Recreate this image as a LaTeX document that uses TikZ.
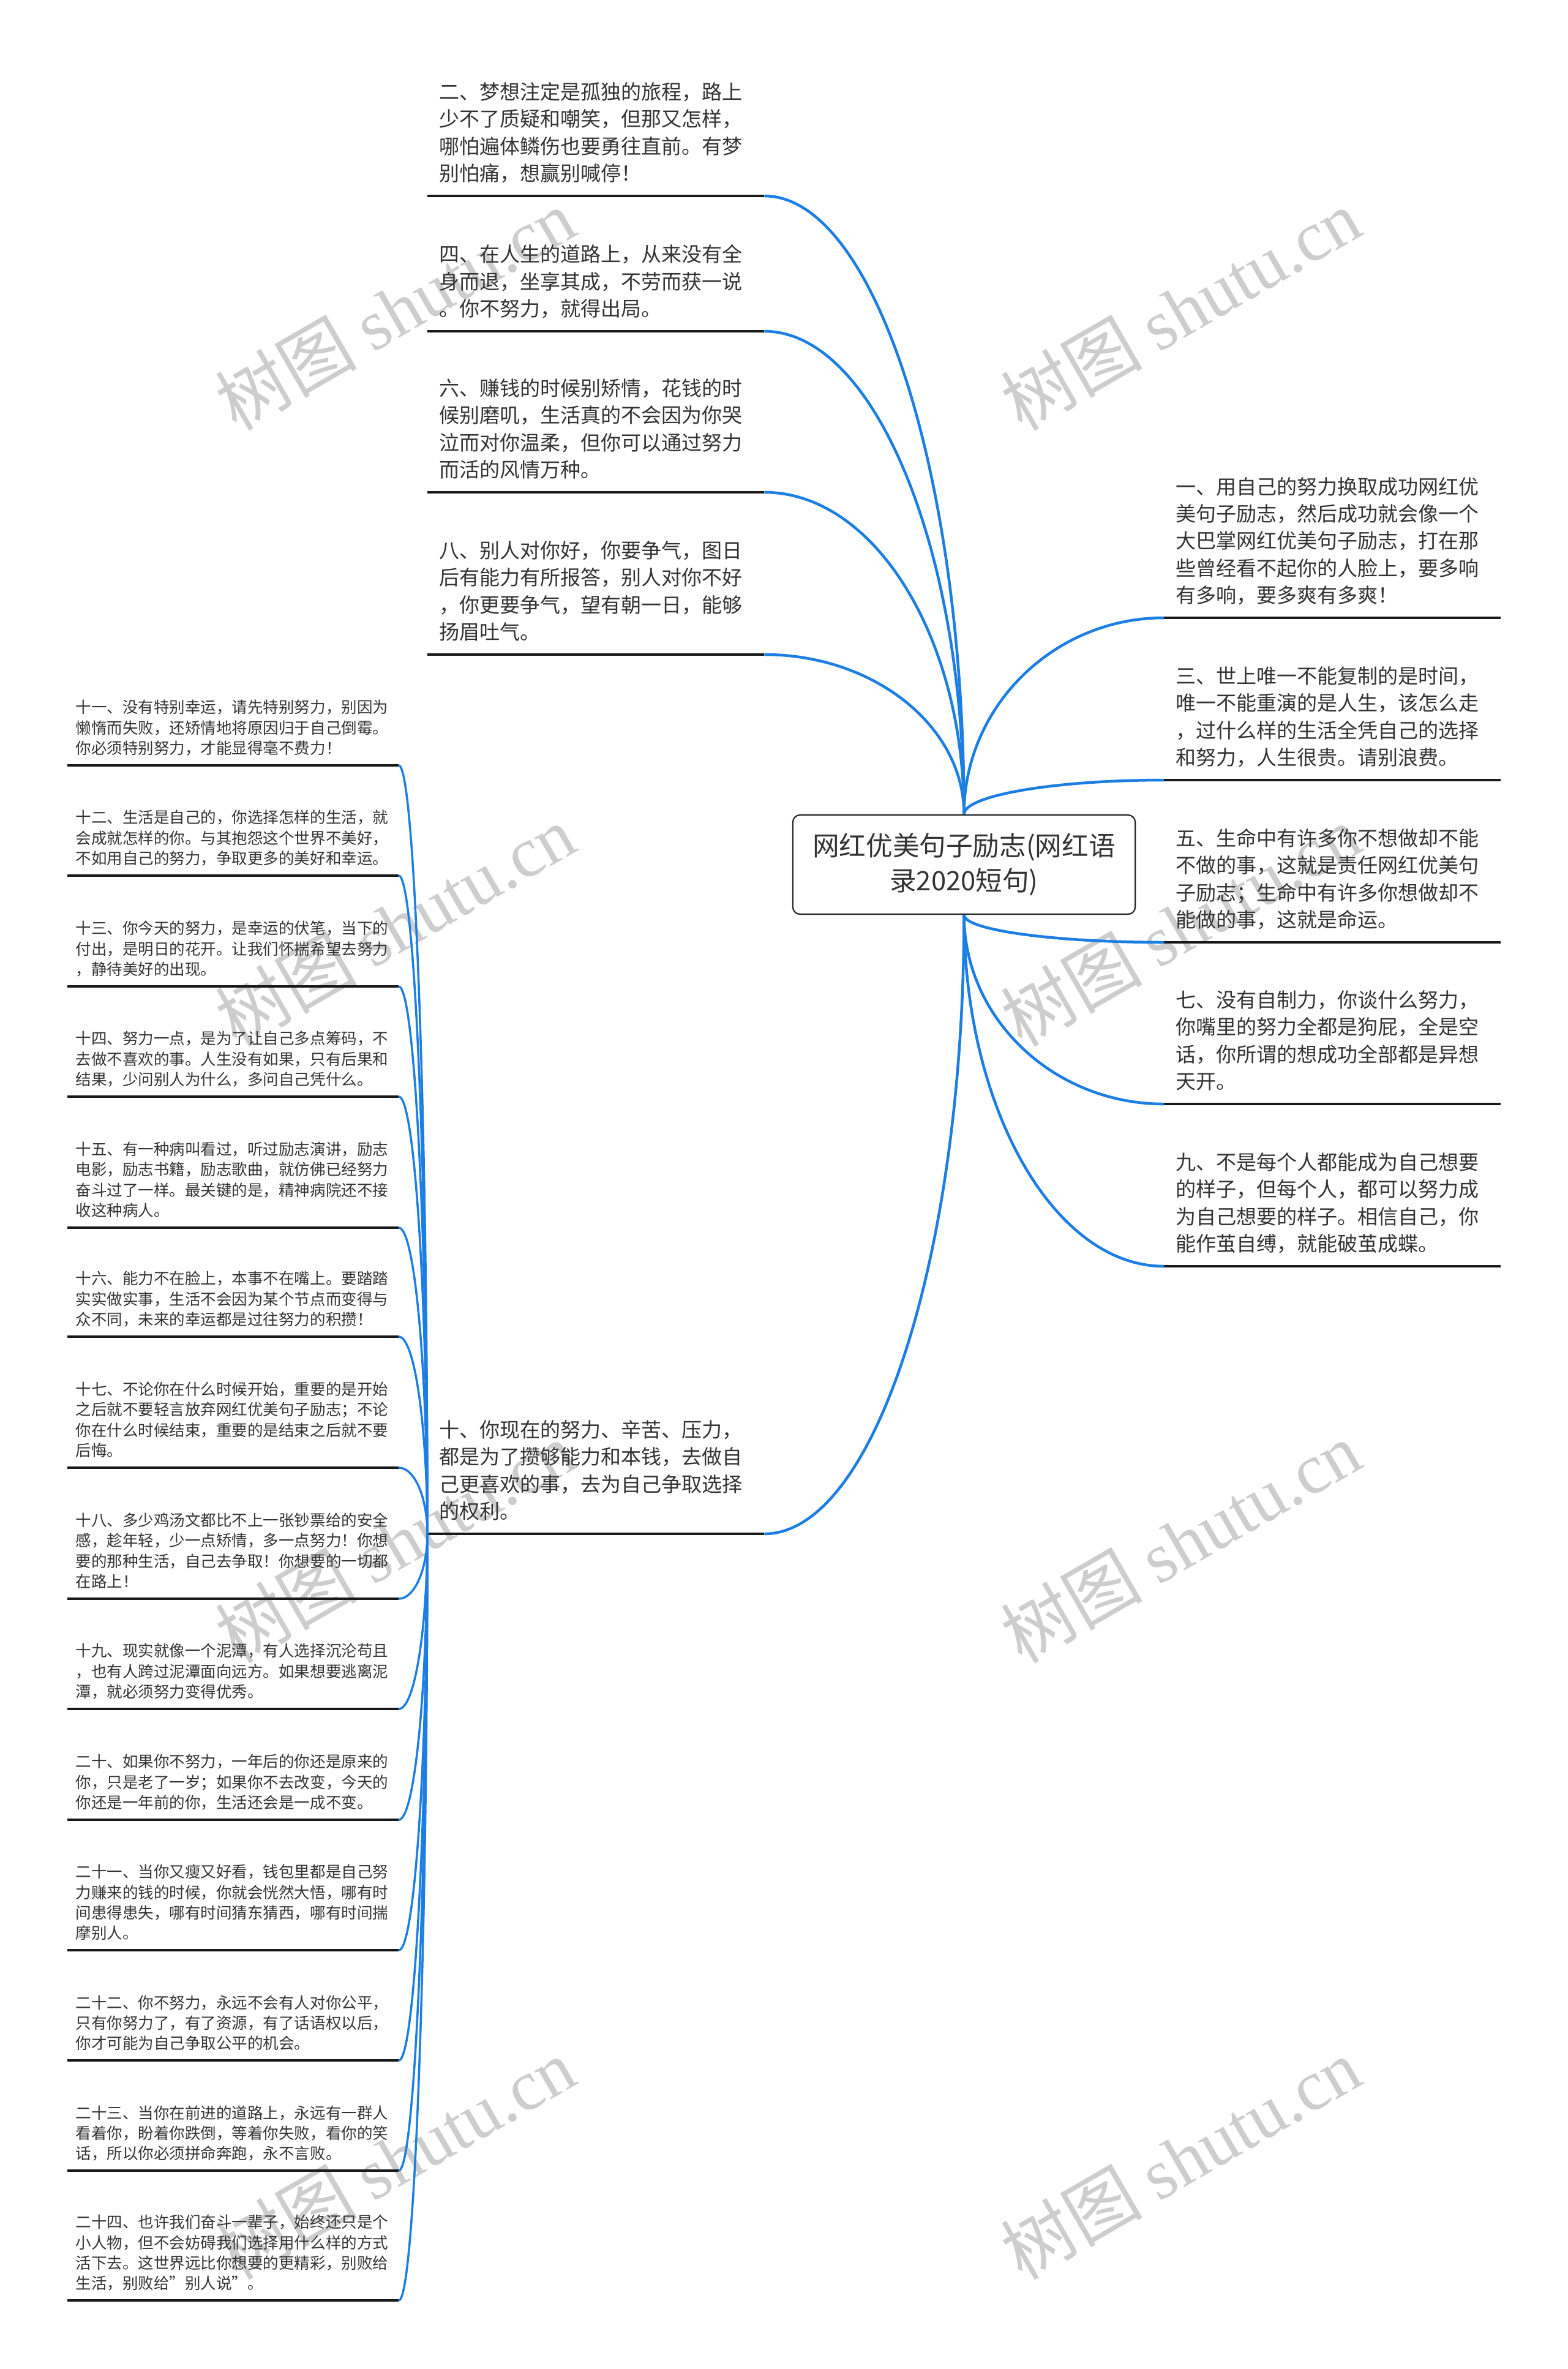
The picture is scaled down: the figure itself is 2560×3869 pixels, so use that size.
\documentclass[tikz,border=0pt]{standalone}
\usepackage{fontspec}
\setmainfont{Noto Sans CJK SC}
\newfontfamily\wmfont{Liberation Serif}
\usetikzlibrary{calc,positioning}
\definecolor{branchblue}{RGB}{28,126,226}
\definecolor{leaftext}{RGB}{51,51,51}
\definecolor{stampgray}{RGB}{205,205,205}

\begin{document}
\begin{tikzpicture}[x=0.01cm, y=-0.01cm,
    branch/.style={draw=branchblue, line width=0.045cm},
    twig/.style={draw=branchblue, line width=0.035cm},
    uline/.style={draw=black!90, line width=0.035cm},
    rootbox/.style={draw=black!85, line width=0.022cm, rounded corners=0.12cm,
      minimum width=5.59cm, minimum height=1.62cm, align=center, text=leaftext,
      font=\fontsize{12.4pt}{16.2pt}\selectfont},
    leaf/.style={anchor=south west, text width=5.12cm, inner xsep=0.19cm,
      inner ysep=0.112cm, outer sep=0pt, align=left, text=leaftext,
      font=\fontsize{9.4pt}{12.6pt}\selectfont, execute at end node=\strut},
    small/.style={anchor=south west, text width=5.14cm, inner xsep=0.135cm,
      inner ysep=0.082cm, outer sep=0pt, align=left, text=leaftext,
      font=\fontsize{7.26pt}{9.5pt}\selectfont, execute at end node=\strut},
    stamp/.style={rotate=30, text=stampgray, font=\fontsize{33pt}{33pt}\selectfont}]

    % Page
    \fill[white] (0,0) rectangle (2560,3869);
    \useasboundingbox (0,0) rectangle (2560,3869);

    % Watermarks
    \foreach \wx in {645,1928}
      \foreach \wy in {505,1511,2518,3525}
        \node[stamp] (wm-\wx-\wy) at (\wx,\wy) {树图 {\wmfont shutu.cn}};

    % Root
    \node[rootbox] (root) at (1574.5,1412) {网红优美句子励志(网红语\\录2020短句)};

    % Upper left branches
    \node[leaf] (n2) at (698,320) {二、梦想注定是孤独的旅程，路上\\少不了质疑和嘲笑，但那又怎样，\\哪怕遍体鳞伤也要勇往直前。有梦\\别怕痛，想赢别喊停！};
    \node[leaf] (n4) at (698,541) {四、在人生的道路上，从来没有全\\身而退，坐享其成，不劳而获一说\\。你不努力，就得出局。};
    \node[leaf] (n6) at (698,804) {六、赚钱的时候别矫情，花钱的时\\候别磨叽，生活真的不会因为你哭\\泣而对你温柔，但你可以通过努力\\而活的风情万种。};
    \node[leaf] (n8) at (698,1069) {八、别人对你好，你要争气，图日\\后有能力有所报答，别人对你不好\\，你更要争气，望有朝一日，能够\\扬眉吐气。};
    \node[leaf] (n10) at (698,2505) {十、你现在的努力、辛苦、压力，\\都是为了攒够能力和本钱，去做自\\己更喜欢的事，去为自己争取选择\\的权利。};

    % Right branches
    \node[leaf] (n1) at (1901,1009) {一、用自己的努力换取成功网红优\\美句子励志，然后成功就会像一个\\大巴掌网红优美句子励志，打在那\\些曾经看不起你的人脸上，要多响\\有多响，要多爽有多爽！};
    \node[leaf] (n3) at (1901,1274) {三、世上唯一不能复制的是时间，\\唯一不能重演的是人生，该怎么走\\，过什么样的生活全凭自己的选择\\和努力，人生很贵。请别浪费。};
    \node[leaf] (n5) at (1901,1539) {五、生命中有许多你不想做却不能\\不做的事，这就是责任网红优美句\\子励志；生命中有许多你想做却不\\能做的事，这就是命运。};
    \node[leaf] (n7) at (1901,1803) {七、没有自制力，你谈什么努力，\\你嘴里的努力全都是狗屁，全是空\\话，你所谓的想成功全部都是异想\\天开。};
    \node[leaf] (n9) at (1901,2068) {九、不是每个人都能成为自己想要\\的样子，但每个人，都可以努力成\\为自己想要的样子。相信自己，你\\能作茧自缚，就能破茧成蝶。};

    % Children of ten
    \node[small] (n11) at (110,1250) {十一、没有特别幸运，请先特别努力，别因为\\懒惰而失败，还矫情地将原因归于自己倒霉。\\你必须特别努力，才能显得毫不费力！};
    \node[small] (n12) at (110,1430) {十二、生活是自己的，你选择怎样的生活，就\\会成就怎样的你。与其抱怨这个世界不美好，\\不如用自己的努力，争取更多的美好和幸运。};
    \node[small] (n13) at (110,1611) {十三、你今天的努力，是幸运的伏笔，当下的\\付出，是明日的花开。让我们怀揣希望去努力\\，静待美好的出现。};
    \node[small] (n14) at (110,1791) {十四、努力一点，是为了让自己多点筹码，不\\去做不喜欢的事。人生没有如果，只有后果和\\结果，少问别人为什么，多问自己凭什么。};
    \node[small] (n15) at (110,2005) {十五、有一种病叫看过，听过励志演讲，励志\\电影，励志书籍，励志歌曲，就仿佛已经努力\\奋斗过了一样。最关键的是，精神病院还不接\\收这种病人。};
    \node[small] (n16) at (110,2183) {十六、能力不在脸上，本事不在嘴上。要踏踏\\实实做实事，生活不会因为某个节点而变得与\\众不同，未来的幸运都是过往努力的积攒！};
    \node[small] (n17) at (110,2397) {十七、不论你在什么时候开始，重要的是开始\\之后就不要轻言放弃网红优美句子励志；不论\\你在什么时候结束，重要的是结束之后就不要\\后悔。};
    \node[small] (n18) at (110,2611) {十八、多少鸡汤文都比不上一张钞票给的安全\\感，趁年轻，少一点矫情，多一点努力！你想\\要的那种生活，自己去争取！你想要的一切都\\在路上！};
    \node[small] (n19) at (110,2791) {十九、现实就像一个泥潭，有人选择沉沦苟且\\，也有人跨过泥潭面向远方。如果想要逃离泥\\潭，就必须努力变得优秀。};
    \node[small] (n20) at (110,2972) {二十、如果你不努力，一年后的你还是原来的\\你，只是老了一岁；如果你不去改变，今天的\\你还是一年前的你，生活还会是一成不变。};
    \node[small] (n21) at (110,3185) {二十一、当你又瘦又好看，钱包里都是自己努\\力赚来的钱的时候，你就会恍然大悟，哪有时\\间患得患失，哪有时间猜东猜西，哪有时间揣\\摩别人。};
    \node[small] (n22) at (110,3365) {二十二、你不努力，永远不会有人对你公平，\\只有你努力了，有了资源，有了话语权以后，\\你才可能为自己争取公平的机会。};
    \node[small] (n23) at (110,3545) {二十三、当你在前进的道路上，永远有一群人\\看着你，盼着你跌倒，等着你失败，看你的笑\\话，所以你必须拼命奔跑，永不言败。};
    \node[small] (n24) at (110,3757) {二十四、也许我们奋斗一辈子，始终还只是个\\小人物，但不会妨碍我们选择用什么样的方式\\活下去。这世界远比你想要的更精彩，别败给\\生活，别败给\char34 别人说\char34 。};

    % Underlines
    \foreach \n in {1,...,24}
      \draw[uline] (n\n.south west) -- (n\n.south east);

    % Connectors from the root
    \foreach \n/\a in {2/south east,4/south east,6/south east,8/south east,1/south west,3/south west}
      \draw[branch] (root.north) .. controls ($(root.north)!.55!(root.north |- n\n.\a)$) and ($(n\n.\a)!.55!(root.north |- n\n.\a)$) .. (n\n.\a);
    \foreach \n/\a in {10/south east,5/south west,7/south west,9/south west}
      \draw[branch] (root.south) .. controls ($(root.south)!.55!(root.south |- n\n.\a)$) and ($(n\n.\a)!.55!(root.south |- n\n.\a)$) .. (n\n.\a);

    % Connectors from ten
    \foreach \n in {11,...,24}
      \draw[twig] (n10.south west) .. controls ($(n10.south west)!.55!(n10.south west |- n\n.south east)$) and ($(n\n.south east)!.55!(n10.south west |- n\n.south east)$) .. (n\n.south east);
\end{tikzpicture}
\end{document}
